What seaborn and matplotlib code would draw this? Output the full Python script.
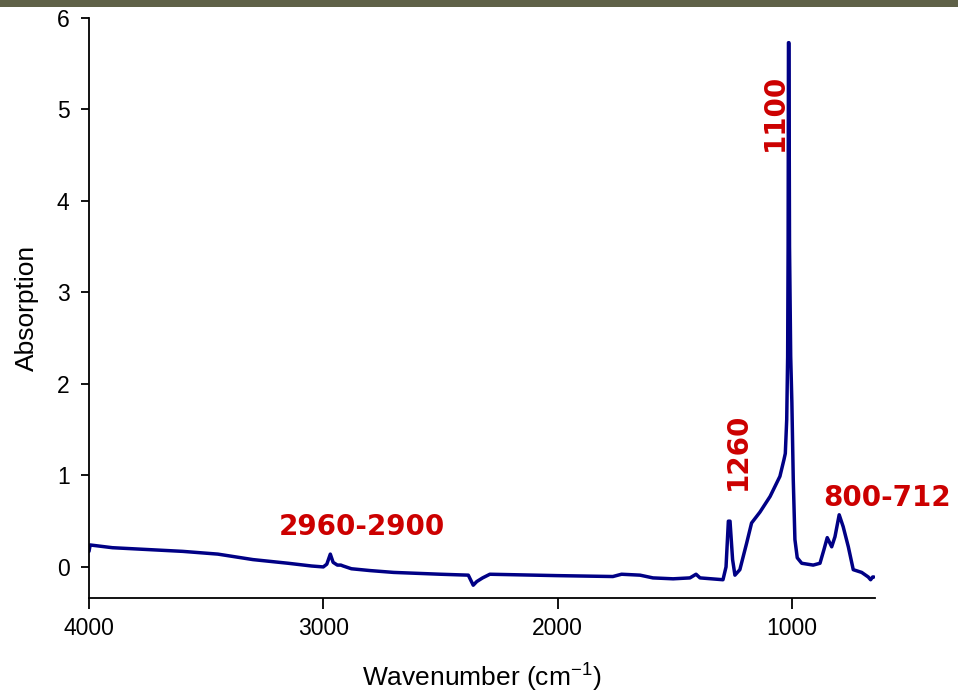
import matplotlib
matplotlib.use("Agg")
import matplotlib.pyplot as plt
from matplotlib.patches import Rectangle
import pandas as pd
import seaborn as sns

# FTIR absorption spectrum (wavenumber in cm^-1, absorption in a.u.)
wavenumber = [
    4000, 3995, 3900, 3750, 3600, 3450, 3300, 3150, 3050, 3000,
    2985, 2970, 2958, 2940, 2925, 2915, 2880, 2800, 2700, 2600,
    2500, 2381, 2360, 2345, 2320, 2289, 2004, 1764, 1727, 1648,
    1593, 1507, 1435, 1409, 1392, 1294, 1281, 1271, 1264, 1253,
    1243, 1222, 1193, 1172, 1136, 1093, 1051, 1034, 1028, 1022,
    1018, 1016, 1014.5, 1012.5, 1010, 1005, 1000, 994, 987, 977,
    958, 909, 880, 863, 849, 830, 816, 798, 781, 759,
    738, 702, 674, 664, 655, 650,
]
absorption = [
    0.17, 0.24, 0.21, 0.19, 0.17, 0.14, 0.08, 0.04, 0.01, 0.00,
    0.03, 0.14, 0.05, 0.02, 0.02, 0.01, -0.02, -0.04, -0.06, -0.07,
    -0.08, -0.09, -0.20, -0.16, -0.12, -0.08, -0.095, -0.105, -0.08, -0.09,
    -0.12, -0.13, -0.12, -0.08, -0.12, -0.14, 0.00, 0.50, 0.50, 0.08,
    -0.09, -0.03, 0.26, 0.48, 0.60, 0.77, 0.99, 1.17, 1.24, 1.61,
    2.30, 3.50, 5.73, 5.73, 3.50, 2.30, 1.80, 0.95, 0.30, 0.10,
    0.04, 0.02, 0.04, 0.19, 0.32, 0.22, 0.33, 0.57, 0.44, 0.22,
    -0.03, -0.06, -0.11, -0.14, -0.11, -0.11,
]

# Band assignments written next to the peaks: (text, x, y, rotation)
band_labels = ["2960-2900", "1260", "1100", "800-712"]
band_x = [2835, 1230, 1072, 594]
band_y = [0.44, 1.26, 4.97, 0.75]
band_rot = [0, 90, 90, 0]

x_ticks = [4000, 3000, 2000, 1000]
y_ticks = [0, 1, 2, 3, 4, 5, 6]

df = pd.DataFrame({"Wavenumber": wavenumber, "Absorption": absorption})

sns.set_theme(style="ticks")
plt.rcParams["font.family"] = ["Liberation Sans", "DejaVu Sans"]
plt.rcParams["text.color"] = "black"
plt.rcParams["axes.labelcolor"] = "black"
plt.rcParams["xtick.color"] = "black"
plt.rcParams["ytick.color"] = "black"

fig = plt.figure(figsize=(9.58, 6.92), dpi=100)
ax = fig.add_axes([0.0929, 0.1358, 0.8205, 0.8382])

# Thin olive banner along the top edge of the figure
fig.patches.append(Rectangle((0, 1 - 7 / 692), 1, 7 / 692, transform=fig.transFigure,
                             facecolor="#5f6148", edgecolor="none", zorder=0))

sns.lineplot(data=df, x="Wavenumber", y="Absorption", ax=ax, color="#000085",
             linewidth=2.5, sort=False, estimator=None)

ax.set_xlim(4000, 645)
ax.set_ylim(-0.34, 6.0)
ax.set_xticks(x_ticks)
ax.set_yticks(y_ticks)
ax.tick_params(axis="x", direction="out", length=8, width=1.3, labelsize=16.5, pad=6)
ax.tick_params(axis="y", direction="out", length=6, width=1.3, labelsize=16.5, pad=8)

ax.set_xlabel("Wavenumber (cm$^{\\mathregular{-1}}$)", fontsize=19, labelpad=14)
ax.set_ylabel("Absorption", fontsize=19, labelpad=13)

for side in ("top", "right"):
    ax.spines[side].set_visible(False)
for side in ("left", "bottom"):
    ax.spines[side].set_linewidth(1.3)
    ax.spines[side].set_color("black")

for text, bx, by, rot in zip(band_labels, band_x, band_y, band_rot):
    ax.text(bx, by, text, color="#cc0000", fontsize=20, fontweight="bold",
            family="DejaVu Sans", rotation=rot, ha="center", va="center",
            clip_on=False)

fig.savefig("out.png", dpi=100)
